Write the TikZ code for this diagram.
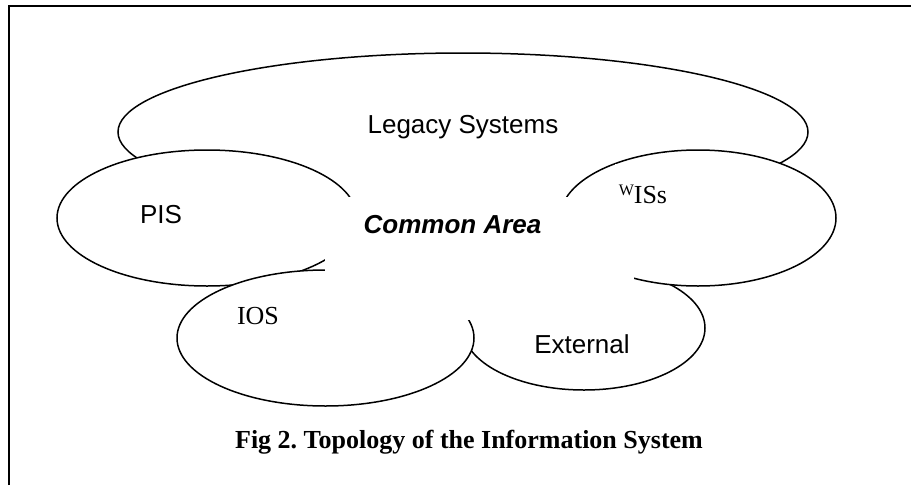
\documentclass[tikz,border=0pt]{standalone}
\usepackage{fontspec}
\setmainfont{Liberation Serif}
\newfontfamily\arialfont{Liberation Sans}
\usepackage{tikz}
\usetikzlibrary{shapes.geometric, positioning}
\frenchspacing

\begin{document}
\begin{tikzpicture}[
    x=1pt, y=-1pt,
    system/.style={ellipse, draw, fill=white, inner sep=0pt, line width=1.5pt},
    sans label/.style={font=\arialfont\fontsize{26}{30}\selectfont, inner sep=0pt, anchor=base},
    serif label/.style={font=\fontsize{26}{30}\selectfont, inner sep=0pt, anchor=base},
    line width=1.5pt, draw=black
]
\useasboundingbox (0,0) rectangle (911,485);

\draw[line width=2pt] (9,485) -- (9,6) -- (911,6);

\node[system, minimum width=690pt, minimum height=158pt] (legacy) at (463,132) {};
\node[system, minimum width=300pt, minimum height=136pt] (pis) at (207,218) {};
\node[system, minimum width=242pt, minimum height=124pt] (ext) at (584,328) {};
\node[system, minimum width=297pt, minimum height=136pt] (ios) at (325.5,338) {};
\node[system, minimum width=276pt, minimum height=136pt] (wis) at (698,218) {};

\node[fill=white, inner sep=0pt, minimum width=309pt, minimum height=123pt] (common) at (479.5,258.5) {};

\node[sans label] (legacy-t) at (463,133) {Legacy Systems};
\node[sans label] (pis-t) at (161,223) {PIS};
\node[sans label, font=\arialfont\bfseries\itshape\fontsize{26}{30}\selectfont] (common-t) at (452.5,233) {Common Area};
\node[serif label] (ios-t) at (258,324) {IOS};
\node[sans label] (ext-t) at (582,353) {External};
\node[serif label, anchor=north west, fill=white, text height=39.5pt, text depth=4pt] (wis-t) at (614,163.5)
    {\hspace{4pt}\raisebox{8pt}{\fontsize{16}{16}\selectfont W}ISs};

\node[serif label, font=\bfseries\fontsize{26}{30}\selectfont] (caption) at (469,448) {Fig 2. Topology of the Information System};

\end{tikzpicture}
\end{document}
